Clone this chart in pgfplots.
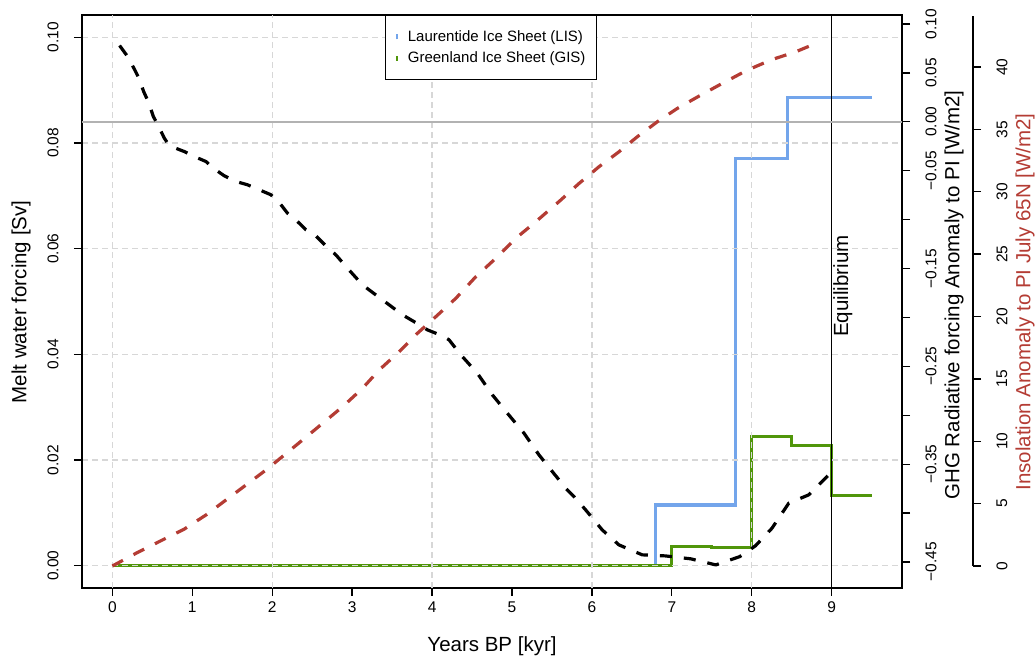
\documentclass[border=0pt]{standalone}
\usepackage{pgfplots}
\pgfplotsset{compat=1.18}
\usepackage{fontspec}
\setmainfont{Liberation Sans}
\definecolor{lisblue}{RGB}{115,165,235}
\definecolor{gisgreen}{RGB}{80,150,10}
\definecolor{insred}{RGB}{180,60,52}
\definecolor{gridgray}{RGB}{215,215,215}
\newcommand{\tickfont}{\fontsize{15.5}{18}\selectfont}
\newcommand{\labfont}{\fontsize{20.5}{24}\selectfont}
\pgfplotsset{
  common/.style={
    scale only axis,
    anchor=south west,
    tick align=outside,
    major tick length=8pt,
    tick style={black, line width=1.3pt},
    axis line style={line width=1.3pt},
    ticklabel style={font=\tickfont},
    yticklabel shift=12pt,
    xticklabel shift=2pt,
  }
}
\begin{document}
\begin{tikzpicture}
\path[use as bounding box] (0,0) rectangle (1036pt,660pt);

% ---------- main axis: melt water forcing ----------
\begin{axis}[common,
  at={(82pt,72pt)}, width=820pt, height=573pt,
  xmin=-0.38, xmax=9.88, ymin=-0.0042, ymax=0.1042,
  axis on top,
  xtick={0,1,2,3,4,5,6,7,8,9},
  xticklabels={0,1,2,3,4,5,6,7,8,9},
  ytick={0,0.02,0.04,0.06,0.08,0.1},
  yticklabels={0.00,0.02,0.04,0.06,0.08,0.10},
  xtick pos=left, ytick pos=left,
  yticklabel style={rotate=90, anchor=south},
  ymajorgrids,
  extra x ticks={0,2,4,6,8},
  extra x tick labels={},
  extra x tick style={grid=major, major tick length=0pt},
  major grid style={gridgray, line width=1.3pt, dash pattern=on 6pt off 4pt},
  legend style={at={(0.3695,1)}, anchor=north west, draw=black, line width=1.3pt,
    font=\fontsize{15}{18}\selectfont, inner xsep=9pt, inner ysep=13pt, row sep=5pt},
  legend cell align=left,
  legend image code/.code={\draw[#1, line width=2pt] (0pt,-2.5pt) -- (0pt,2.5pt);
    \path (-1pt,0pt) (7pt,0pt);},
]
\addplot[const plot, lisblue, line width=3.2pt] coordinates {
  (0,0) (6.8,0.0115) (7.8,0.0771) (8.45,0.0886) (9.5,0.0886)};
\addlegendentry{Laurentide Ice Sheet (LIS)}
\addplot[const plot, gisgreen, line width=3.2pt] coordinates {
  (0,0) (7.0,0.0036) (7.5,0.0034) (8.0,0.0244) (8.5,0.0227) (9.0,0.0133) (9.5,0.0133)};
\addlegendentry{Greenland Ice Sheet (GIS)}
\addplot[black, line width=1.6pt, forget plot] coordinates {(9,-0.0042) (9,0.1042)};
\node[rotate=90, font=\labfont] at (axis cs:9.14,0.0529) {Equilibrium};
\end{axis}

% ---------- GHG axis ----------
\begin{axis}[common,
  at={(82pt,72pt)}, width=820pt, height=573pt,
  xmin=-0.38, xmax=9.88, ymin=-0.4766, ymax=0.1092,
  axis x line=none, axis y line*=right,
  ytick={-0.45,-0.4,-0.35,-0.3,-0.25,-0.2,-0.15,-0.1,-0.05,0,0.05,0.1},
  yticklabels={−0.45,,−0.35,,−0.25,,−0.15,,−0.05,0.00,0.05,0.10},
  yticklabel style={rotate=90, anchor=north},
]
\addplot[black!30, line width=1.6pt] coordinates {(-0.38,0) (9.88,0)};
\addplot[black, line width=3.2pt, dash pattern=on 12pt off 12pt, line join=round] coordinates {
(0.09,0.078) (0.184,0.0675) (0.275,0.0539) (0.3375,0.0437) (0.391,0.0310) (0.454,0.0197)
(0.5125,0.0054) (0.575,-0.0041) (0.65,-0.0167) (0.7125,-0.0245) (0.9,-0.0304) (1.025,-0.0355)
(1.171,-0.0406) (1.275,-0.0481) (1.4,-0.0552) (1.546,-0.0610) (1.691,-0.0644) (1.8375,-0.0695)
(1.984,-0.0746) (2.0875,-0.0825) (2.191,-0.0934) (2.316,-0.1019) (2.421,-0.1104) (2.546,-0.1166)
(2.671,-0.1268) (2.796,-0.1360) (2.941,-0.1496) (3.129,-0.1667) (3.379,-0.1820) (3.629,-0.1973)
(3.879,-0.2093) (3.941,-0.2127) (4.129,-0.2188) (4.2125,-0.2229) (4.359,-0.2382) (4.566,-0.2570)
(4.754,-0.2791) (4.941,-0.2978) (5.15,-0.3183) (5.3375,-0.3405) (5.671,-0.3745) (5.775,-0.3831)
(5.921,-0.3967) (6.129,-0.4172) (6.3375,-0.4325) (6.629,-0.4427) (6.921,-0.4438) (7.2375,-0.4468)
(7.55,-0.4530) (7.85,-0.4445) (8.046,-0.4335) (8.254,-0.4154) (8.4625,-0.3899) (8.7125,-0.3814)
(8.9625,-0.3609)};
\end{axis}

% ---------- Insolation axis ----------
\begin{axis}[common,
  at={(82pt,94pt)}, width=891pt, height=550pt,
  xmin=-0.38, xmax=10.768, ymin=0, ymax=44.09, clip=false,
  axis x line=none, axis y line*=right,
  ytick={0,5,10,15,20,25,30,35,40},
  yticklabels={0,5,10,15,20,25,30,35,40},
  yticklabel style={rotate=90, anchor=north},
]
\addplot[insred, line width=3.2pt, dash pattern=on 12pt off 12pt, line join=round] coordinates {
(0,0) (0.296,1.02) (0.609,2.03) (0.9,2.96) (1.171,4.09) (1.421,5.29) (1.671,6.49) (1.921,7.69)
(2.15,8.89) (2.379,10.10) (2.629,11.43) (2.879,12.76) (3.129,14.24) (3.3375,15.71) (3.5875,17.17)
(3.816,18.65) (4.046,19.98) (4.296,21.45) (4.546,23.18) (4.796,24.66) (5.046,26.26) (5.296,27.59)
(5.609,29.33) (5.8375,30.66) (6.0875,32.0) (6.3375,33.20) (6.566,34.40) (6.816,35.60) (7.066,36.67)
(7.3375,37.66) (7.629,38.68) (7.941,39.74) (8.254,40.60) (8.546,41.21) (8.816,41.93)};
\end{axis}

% ---------- axis titles ----------
\node[rotate=90, font=\labfont] at (21pt,358pt) {Melt water forcing [Sv]};
\node[font=\labfont] at (492pt,14pt) {Years BP [kyr]};
\node[rotate=90, font=\labfont] at (954pt,365pt) {GHG Radiative forcing Anomaly to PI [W/m2]};
\node[rotate=90, font=\labfont, text=insred] at (1025pt,358pt) {Insolation Anomaly to PI July 65N [W/m2]};
\end{tikzpicture}
\end{document}
